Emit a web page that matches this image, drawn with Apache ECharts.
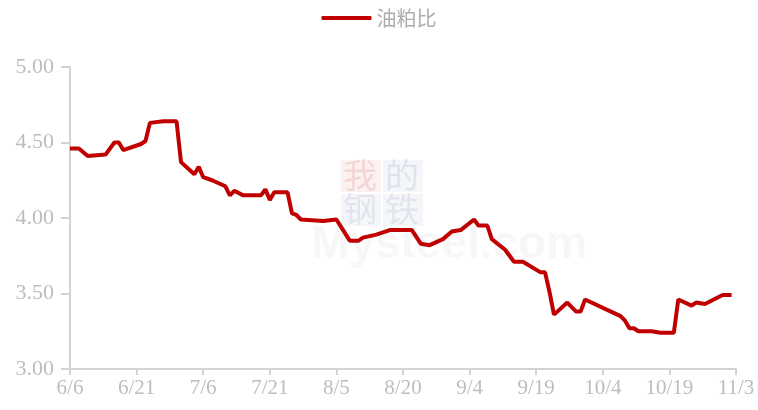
<!DOCTYPE html>
<html><head><meta charset="utf-8">
<script src="https://cdn.jsdelivr.net/npm/echarts@6/dist/echarts.min.js"></script>
<style>html,body{margin:0;padding:0;background:#fff}#c{width:758px;height:410px}</style>
</head><body><div id="c"></div>
<script>
const seriesName = '油粕比';
const startDate = '6/6';
const tickLabels = ['6/6','6/21','7/6','7/21','8/5','8/20','9/4','9/19','10/4','10/19','11/3'];
const dates = ['6/6','6/8','6/10','6/14','6/16','6/17','6/18','6/22','6/23','6/24','6/27','6/30',
 '7/1','7/4','7/5','7/6','7/8','7/11','7/12','7/13','7/15','7/19','7/20','7/21','7/22','7/25','7/26','7/27','7/28',
 '8/2','8/5','8/8','8/10','8/11','8/14','8/16','8/17','8/22','8/24','8/26','8/29','8/31',
 '9/2','9/5','9/6','9/8','9/9','9/12','9/14','9/16','9/20','9/21','9/22','9/23','9/26','9/28','9/29','9/30',
 '10/8','10/9','10/10','10/11','10/12','10/15','10/17','10/20','10/21','10/24','10/25','10/27','10/31','11/2'];
const values = [4.46,4.46,4.41,4.42,4.50,4.50,4.45,4.49,4.51,4.63,4.64,4.64,
 4.37,4.29,4.34,4.27,4.25,4.21,4.15,4.18,4.15,4.15,4.19,4.12,4.17,4.17,4.03,4.02,3.99,
 3.98,3.99,3.85,3.85,3.87,3.89,3.91,3.92,3.92,3.83,3.82,3.86,3.91,
 3.92,3.99,3.95,3.95,3.86,3.79,3.71,3.71,3.64,3.64,3.51,3.36,3.44,3.38,3.38,3.46,
 3.35,3.32,3.27,3.27,3.25,3.25,3.24,3.24,3.46,3.42,3.44,3.43,3.49,3.49];

function toDay(s){ const [m,d]=s.split('/').map(Number); return Date.UTC(2023,m-1,d)/86400000; }
const d0 = toDay(startDate);
const dayOffsets = dates.map(s => toDay(s) - d0);
const tickDays = tickLabels.map(s => toDay(s) - d0);
const labelMap = {}; tickDays.forEach((d,i)=>labelMap[d]=tickLabels[i]);
const data = dayOffsets.map((d,i)=>[d, values[i]]);

const axisColor = '#d3d3d3';
const labelColor = '#bdbdbd';
const cjk = 'Noto Sans CJK SC';
function cell(x,y,ch,bg,fg){
  return {type:'group',left:x,top:y,silent:true,children:[
    {type:'rect',shape:{x:0,y:0,width:40,height:32},style:{fill:bg}},
    {type:'text',left:2,top:-2,style:{text:ch,fontSize:34,fill:fg,fontFamily:cjk}}
  ]};
}
const chart = echarts.init(document.getElementById('c'));
chart.setOption({
  animation:false,
  backgroundColor:'#fff',
  legend:{top:3,left:'center',itemWidth:50,itemHeight:4,itemGap:8,
    icon:'roundRect',
    textStyle:{color:'#adadad',fontSize:20,fontFamily:cjk},
    data:[seriesName]},
  grid:{left:70,right:22,top:67,bottom:41},
  graphic:[
    cell(341,158,'我','rgba(245,215,215,0.35)','rgba(225,120,120,0.22)'),
    cell(383,158,'的','rgba(225,230,242,0.35)','rgba(150,160,190,0.22)'),
    cell(341,192,'钢','rgba(225,230,242,0.35)','rgba(150,160,190,0.20)'),
    cell(383,192,'铁','rgba(225,230,242,0.35)','rgba(150,160,190,0.20)'),
    {type:'text',left:311,top:222,silent:true,style:{text:'Mysteel.com',fontSize:46,fontWeight:'bold',fill:'rgba(190,190,190,0.12)',fontFamily:'Arial'}}
  ],
  xAxis:{type:'value',min:tickDays[0],max:tickDays[tickDays.length-1],interval:15,
    axisLine:{lineStyle:{color:axisColor,width:2}},
    axisTick:{show:true,length:6,lineStyle:{color:axisColor,width:2}},
    splitLine:{show:false},
    axisLabel:{color:labelColor,fontSize:21,fontFamily:'Liberation Serif',margin:9,
      formatter:v=>labelMap[v]||''}},
  yAxis:{type:'value',min:3,max:5,interval:0.5,
    axisLine:{show:true,lineStyle:{color:axisColor,width:2}},
    axisTick:{show:true,length:9,lineStyle:{color:axisColor,width:2}},
    splitLine:{show:false},
    axisLabel:{color:labelColor,fontSize:22,fontFamily:'Liberation Serif',margin:16,
      formatter:v=>v.toFixed(2)}},
  series:[{name:seriesName,type:'line',data:data,showSymbol:false,symbol:'none',z:5,
    lineStyle:{color:'#C00000',width:4},itemStyle:{color:'#C00000'}}]
});
</script></body></html>
